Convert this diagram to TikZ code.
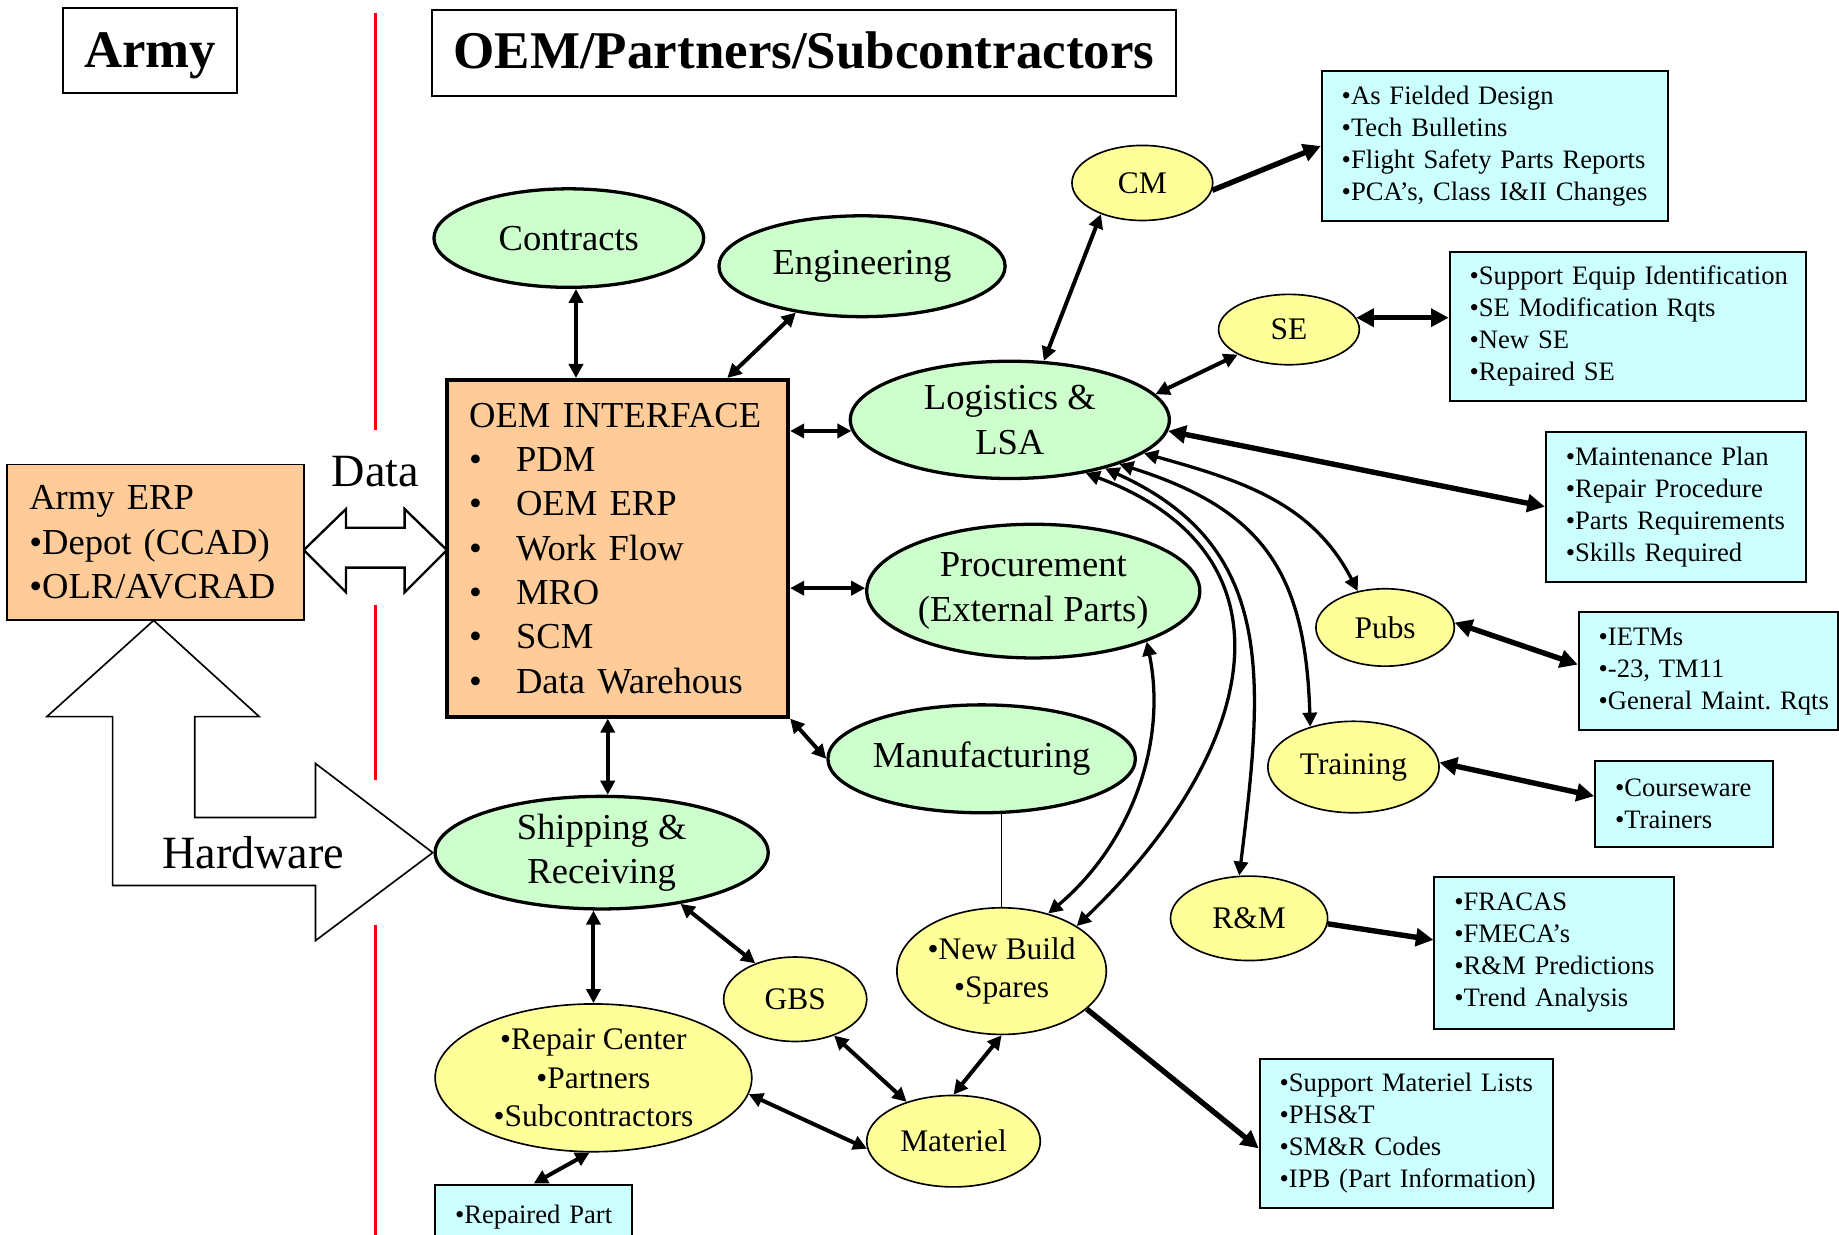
\documentclass[tikz,border=0pt]{standalone}
\usepackage{fontspec}
\setmainfont{Liberation Serif}
\usetikzlibrary{shapes.geometric,arrows.meta,calc}
\definecolor{grnfill}{HTML}{CCFFCC}
\definecolor{yelfill}{HTML}{FFFF99}
\definecolor{cynfill}{HTML}{CCFFFF}
\definecolor{pchfill}{HTML}{FFCC99}
\definecolor{redline}{HTML}{FF0000}
\tikzset{
  Hd/.tip={Triangle[length=6pt,width=6pt]},
  Hb/.tip={Triangle[length=7.5pt,width=7.5pt]},
  gell/.style={ellipse, draw, fill=grnfill, line width=1.4pt, inner sep=0pt, align=center,
    font=\fontsize{15.6}{19}\selectfont},
  yell/.style={ellipse, draw, fill=yelfill, line width=0.7pt, inner sep=0pt, align=center,
    font=\fontsize{13.4}{16.4}\selectfont},
  cbox/.style={rectangle, draw, fill=cynfill, line width=0.8pt, inner xsep=8.5pt, inner ysep=0pt,
    align=left, font=\fontsize{11.35}{13.65}\selectfont},
  titlebox/.style={rectangle, draw, line width=0.9pt, inner sep=0pt, text depth=0pt},
  conn/.style={line width=1.7pt, Hd-Hd},
  connT/.style={line width=2.3pt, Hb-Hb},
  connTs/.style={line width=2.3pt, -Hb},
  curv/.style={line width=1.4pt, Hd-Hd},
  redsep/.style={draw=redline, line width=1.5pt},
  bigarrow/.style={draw, fill=white},
  lbl/.style={font=\fontsize{19.7}{23}\selectfont, inner sep=0pt}
}
\begin{document}
\begin{tikzpicture}[x=0.5pt,y=-0.5pt]
\useasboundingbox (0,0) rectangle (1568,1053);

% red separator
\draw[redsep] (320,11) -- (320,367);
\draw[redsep] (320,516) -- (320,665);
\draw[redsep] (320,789) -- (320,1060);

% titles
\node[titlebox, minimum width=74pt, minimum height=36pt, text height=14.5pt,
  font=\bfseries\fontsize{22.5}{27}\selectfont] (army) at (128,43) {Army};
\node[titlebox, minimum width=317.5pt, minimum height=36.5pt, text height=13.5pt,
  font=\bfseries\fontsize{22.6}{27}\selectfont] (oemtitle) at (685.5,45.25)
  {OEM/Partners/Subcontractors};

% big hollow arrows
\draw[bigarrow, line width=0.7pt] (131,529) -- (221,611) -- (166,611) -- (166,697) -- (269,697)
  -- (269,651) -- (369,727) -- (269,802) -- (269,755) -- (96,755) -- (96,611) -- (40,611) -- cycle;
\draw[bigarrow, line width=1pt] (259,469) -- (295,434) -- (295,450) -- (345,450) -- (345,434)
  -- (381,469) -- (345,505) -- (345,484) -- (295,484) -- (295,505) -- cycle;
\node[lbl] (datalbl) at (320,402) {Data};
\node[lbl] (hwlbl) at (216,727) {Hardware};

% Army ERP
\node[draw, fill=pchfill, line width=0.8pt, text width=107.5pt, inner xsep=9.5pt, inner ysep=0pt,
  minimum height=66.5pt, align=left, font=\fontsize{15.6}{19}\selectfont] (erp) at (132.5,462.5)
  {\mbox{Army ERP}\\\mbox{•Depot (CCAD)}\\\mbox{•OLR/AVCRAD}};

% OEM interface
\node[draw, fill=pchfill, line width=1.7pt, text width=126.5pt, inner xsep=9.5pt, inner ysep=0pt,
  minimum height=143.5pt, align=left, font=\fontsize{15.6}{18.9}\selectfont] (oem) at (526.5,467.5)
  {\mbox{OEM INTERFACE}\\
   \mbox{\makebox[20pt][l]{•}PDM}\\
   \mbox{\makebox[20pt][l]{•}OEM ERP}\\
   \mbox{\makebox[20pt][l]{•}Work Flow}\\
   \mbox{\makebox[20pt][l]{•}MRO}\\
   \mbox{\makebox[20pt][l]{•}SCM}\\
   \mbox{\makebox[20pt][l]{•}Data Warehous}};

% green ellipses
\node[gell, minimum width=115pt, minimum height=42pt] (contracts) at (485,203) {Contracts};
\node[gell, minimum width=122pt, minimum height=43pt] (eng) at (735,227) {Engineering};
\node[gell, minimum width=136pt, minimum height=50pt] (lsa) at (861,358) {Logistics \&\\LSA};
\node[gell, minimum width=142pt, minimum height=57pt] (proc) at (881,504) {Procurement\\(External Parts)};
\node[gell, minimum width=128pt, minimum height=46pt] (manu) at (837,647) {Manufacturing};
\node[gell, minimum width=142pt, minimum height=48pt] (ship) at (513,727) {Shipping \&\\Receiving};

% yellow ellipses
\node[yell, minimum width=60pt, minimum height=32pt] (cm) at (974,156) {CM};
\node[yell, minimum width=60pt, minimum height=30pt] (se) at (1099,281) {SE};
\node[yell, minimum width=59pt, minimum height=33pt] (pubs) at (1181,535) {Pubs};
\node[yell, minimum width=73pt, minimum height=39pt] (train) at (1154,654) {Training};
\node[yell, minimum width=67pt, minimum height=36pt] (rm) at (1065,783) {R\&M};
\node[yell, minimum width=88pt, minimum height=54pt] (nb) at (854,828) {•New Build\\•Spares};
\node[yell, minimum width=61pt, minimum height=36pt] (gbs) at (678,852) {GBS};
\node[yell, minimum width=74pt, minimum height=39pt] (mat) at (813,973) {Materiel};
\node[yell, minimum width=135pt, minimum height=63pt] (rep) at (506,919) {•Repair Center\\•Partners\\•Subcontractors};

% cyan boxes
\node[cbox, text width=130.5pt, minimum height=64pt] (cmbox) at (1274.5,124.5)
  {\mbox{•As Fielded Design}\\\mbox{•Tech Bulletins}\\\mbox{•Flight Safety Parts Reports}\\\mbox{•PCA’s, Class I\&II Changes}};
\node[cbox, text width=135pt, minimum height=63.75pt] (sebox) at (1388,278.25)
  {\mbox{•Support Equip Identification}\\\mbox{•SE Modification Rqts}\\\mbox{•New SE}\\\mbox{•Repaired SE}};
\node[cbox, text width=94pt, minimum height=64pt] (lsabox) at (1429,432)
  {\mbox{•Maintenance Plan}\\\mbox{•Repair Procedure}\\\mbox{•Parts Requirements}\\\mbox{•Skills Required}};
\node[cbox, text width=93.5pt, minimum height=50.25pt] (pubsbox) at (1456.5,572.25)
  {\mbox{•IETMs}\\\mbox{•-23, TM11}\\\mbox{•General Maint.\ Rqts}};
\node[cbox, text width=59pt, minimum height=36.5pt] (trainbox) at (1436,685.5)
  {\mbox{•Courseware}\\\mbox{•Trainers}};
\node[cbox, text width=85pt, minimum height=64.5pt] (rmbox) at (1325,812.5)
  {\mbox{•FRACAS}\\\mbox{•FMECA’s}\\\mbox{•R\&M Predictions}\\\mbox{•Trend Analysis}};
\node[cbox, text width=108pt, minimum height=63.5pt] (spbox) at (1199,966.5)
  {\mbox{•Support Materiel Lists}\\\mbox{•PHS\&T}\\\mbox{•SM\&R Codes}\\\mbox{•IPB (Part Information)}};
\node[cbox, text width=67pt, minimum height=27.5pt] (repbox) at (455,1037.5)
  {\mbox{•Repaired Part}};

% connectors around OEM interface
\draw[conn] (contracts.-82) -- (contracts.-82 |- oem.north);
\draw[conn] (eng.-145) -- ($(oem.north west)!0.818!(oem.north east)$);
\draw[conn] (lsa.184 -| oem.east) -- (lsa.184);
\draw[conn] (proc.179 -| oem.east) -- (proc.179);
\draw[conn] (oem.south east) -- (manu.west);
\draw[conn] (ship.84 |- oem.south) -- (ship.84);

% logistics links
\draw[conn] (lsa.60) -- (cm.217);
\draw[conn] (lsa.10) -- (se.206);
\draw[connTs] (cm.-6) -- (cmbox.west);
\draw[connT] (se.10) -- (se.10 -| sebox.west);
\draw[connT] (lsa.-4) -- (lsabox.west);
\draw[connT] (pubs.4) -- ($(pubsbox.north west)!0.445!(pubsbox.south west)$);
\draw[connT] (train.3) -- ($(trainbox.north west)!0.41!(trainbox.south west)$);
\draw[connTs] (rm.-4) -- ($(rmbox.north west)!0.415!(rmbox.south west)$);
\draw[connTs] (nb.-24) -- ($(spbox.north west)!0.598!(spbox.south west)$);

% curved links from Logistics & LSA
\draw[curv] (lsa.-14) .. controls +(82,23) and +(-39,-76) .. (pubs.127);
\draw[curv] (lsa.-22) .. controls +(124,39) and +(-4,-130) .. (train.137);
\draw[curv] (lsa.-27) .. controls +(146,66) and +(21,-169) .. (rm.103);
\draw[curv] (lsa.-35) .. controls +(192,72) and +(148,-141) .. (nb.31);
\draw[curv] (proc.-24) .. controls +(18,88) and +(69,-58) .. (nb.51);

% lower links
\draw[line width=0.6pt] (nb.north |- manu.south) -- (nb.north);
\draw[conn] (nb.south) -- (mat.north);
\draw[conn] (rep.north |- ship.south) -- (rep.north);
\draw[conn] (ship.-33) -- (gbs.138);
\draw[conn] (gbs.-43) -- (mat.140);
\draw[conn] (rep.-6) -- (mat.185);
\draw[conn] (rep.-93) -- (repbox.north);
\end{tikzpicture}
\end{document}
